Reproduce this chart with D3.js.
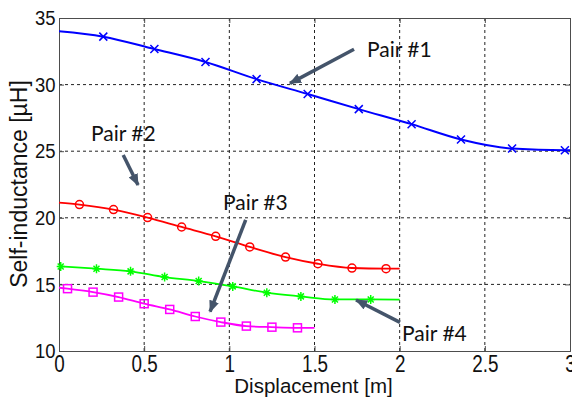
<!DOCTYPE html>
<html>
<head>
<meta charset="utf-8">
<script src="https://cdn.jsdelivr.net/npm/d3@7"></script>
<style>
  body { margin: 0; background: #fff; }
  .grid line { stroke: #222; stroke-dasharray: 3,3; stroke-width: 1; }
  .axis path, .axis line { stroke: #4d4d4d; }
  .axis text { font-family: "Liberation Sans", Arial, sans-serif; fill: #111; }
  .anno { font-family: Lato, "Open Sans", sans-serif; font-size: 21px; fill: #111; }
</style>
</head>
<body>
<div id="chart-area"></div>
<script>

// data (x = displacement m, y = self-inductance uH)
// mk = 1 where a marker is drawn
var pair1X = [0, 0.26, 0.56, 0.86, 1.16, 1.46, 1.76, 2.07, 2.36, 2.66, 2.97, 3.0];
var pair1Y = [34.0, 33.6, 32.67, 31.7, 30.41, 29.29, 28.16, 27.03, 25.88, 25.2, 25.07, 25.07];
var pair1Mk = [0, 1, 1, 1, 1, 1, 1, 1, 1, 1, 1, 0];

var pair2X = [0, 0.12, 0.32, 0.52, 0.72, 0.92, 1.12, 1.33, 1.52, 1.72, 1.92, 2.0];
var pair2Y = [21.14, 20.99, 20.62, 20.02, 19.31, 18.61, 17.81, 17.05, 16.55, 16.23, 16.18, 16.18];
var pair2Mk = [0, 1, 1, 1, 1, 1, 1, 1, 1, 1, 1, 0];

var pair3X = [0, 0.05, 0.2, 0.35, 0.5, 0.65, 0.8, 0.95, 1.1, 1.25, 1.4, 1.5];
var pair3Y = [14.75, 14.68, 14.42, 14.05, 13.55, 13.12, 12.59, 12.17, 11.87, 11.79, 11.74, 11.74];
var pair3Mk = [0, 1, 1, 1, 1, 1, 1, 1, 1, 1, 1, 0];

var pair4X = [0.01, 0.22, 0.42, 0.62, 0.82, 1.02, 1.22, 1.42, 1.62, 1.83, 2.0];
var pair4Y = [16.35, 16.18, 15.98, 15.55, 15.25, 14.85, 14.38, 14.1, 13.87, 13.87, 13.85];
var pair4Mk = [1, 1, 1, 1, 1, 1, 1, 1, 1, 1, 0];

var xTicks = [0, 0.5, 1, 1.5, 2, 2.5, 3];
var yTicks = [10, 15, 20, 25, 30, 35];

// annotations: label position and arrow tail -> tip, in data units
var annoText = ["Pair #1", "Pair #2", "Pair #3", "Pair #4"];
var annoX = [1.808, 0.188, 0.963, 2.014];
var annoY = [32.09, 25.77, 20.59, 10.75];
var arrowFrom = [[1.732, 32.65], [0.377, 24.71], [1.096, 19.84], [2.002, 12.15]];
var arrowTo = [[1.356, 30.09], [0.464, 22.46], [0.887, 12.95], [1.744, 13.83]];

var margin = {top: 18, right: 2, bottom: 48, left: 59};
var width = 572 - margin.left - margin.right,
    height = 399 - margin.top - margin.bottom;

var svg = d3.select("#chart-area").append("svg")
    .attr("width", 572)
    .attr("height", 399)
    .append("g")
    .attr("transform", "translate(" + margin.left + "," + margin.top + ")");

var x = d3.scaleLinear().domain([0, 3]).range([0, width]);
var y = d3.scaleLinear().domain([10, 35]).range([height, 0]);

// dashed grid
svg.append("g").attr("class", "grid")
    .selectAll("line").data(xTicks.slice(1, -1)).enter().append("line")
    .attr("x1", function(d) { return x(d); }).attr("x2", function(d) { return x(d); })
    .attr("y1", 0).attr("y2", height);
svg.append("g").attr("class", "grid")
    .selectAll("line").data(yTicks.slice(1, -1)).enter().append("line")
    .attr("y1", function(d) { return y(d); }).attr("y2", function(d) { return y(d); })
    .attr("x1", 0).attr("x2", width);

// axes
var xAxis = svg.append("g").attr("class", "axis")
    .attr("transform", "translate(0," + height + ")")
    .call(d3.axisBottom(x).tickValues(xTicks).tickSize(-5).tickPadding(5).tickFormat(d3.format("")));
xAxis.selectAll("text")
    .style("font-size", "23px")
    .attr("transform", "scale(0.82,1)");

var yAxis = svg.append("g").attr("class", "axis")
    .call(d3.axisLeft(y).tickValues(yTicks).tickSize(-5).tickPadding(4));
yAxis.selectAll("text")
    .style("font-size", "21px")
    .attr("transform", "scale(0.88,1)");

svg.append("g").attr("class", "axis")
    .call(d3.axisTop(x).tickValues(xTicks).tickSize(-5).tickFormat(""));
svg.append("g").attr("class", "axis")
    .attr("transform", "translate(" + width + ",0)")
    .call(d3.axisRight(y).tickValues(yTicks).tickSize(-5).tickFormat(""));

// axis titles
svg.append("text")
    .attr("x", x(1.5) - 1)
    .attr("y", height + 42)
    .attr("text-anchor", "middle")
    .style("font-family", "Liberation Sans, Arial, sans-serif")
    .style("font-size", "20.5px")
    .style("fill", "#111")
    .text("Displacement [m]");

svg.append("text")
    .attr("transform", "translate(" + (27 - margin.left) + "," + (184 - margin.top) + ") rotate(-90)")
    .attr("text-anchor", "middle")
    .style("font-family", "Liberation Sans, Arial, sans-serif")
    .style("font-size", "23px")
    .style("fill", "#111")
    .text("Self-inductance [\u00b5H]");

// series
var series = [
    {xs: pair1X, ys: pair1Y, mk: pair1Mk, color: "#0000ff", w: 2, shape: "x"},
    {xs: pair2X, ys: pair2Y, mk: pair2Mk, color: "#ff0000", w: 1.8, shape: "o"},
    {xs: pair3X, ys: pair3Y, mk: pair3Mk, color: "#ff00ff", w: 1.8, shape: "s"},
    {xs: pair4X, ys: pair4Y, mk: pair4Mk, color: "#00ff00", w: 1.8, shape: "*"}
];

var line = d3.line()
    .x(function(d) { return x(d[0]); })
    .y(function(d) { return y(d[1]); })
    .curve(d3.curveMonotoneX);

series.forEach(function(s) {
    var pts = s.xs.map(function(v, i) { return [v, s.ys[i], s.mk[i]]; });
    svg.append("path")
        .datum(pts)
        .attr("fill", "none")
        .attr("stroke", s.color)
        .attr("stroke-width", s.w)
        .attr("d", line);

    var m = svg.append("g").selectAll("g")
        .data(pts.filter(function(p) { return p[2]; }))
        .enter().append("g")
        .attr("transform", function(p) { return "translate(" + x(p[0]) + "," + y(p[1]) + ")"; })
        .attr("stroke", s.color)
        .attr("stroke-width", 1.5)
        .attr("fill", "none");

    if (s.shape == "x") {
        m.append("path").attr("d", "M-4,-4L4,4M-4,4L4,-4");
    } else if (s.shape == "o") {
        m.append("circle").attr("r", 4);
    } else if (s.shape == "s") {
        m.append("rect").attr("x", -4).attr("y", -4).attr("width", 8).attr("height", 8);
    } else {
        m.append("path").attr("d", "M-4,0L4,0M0,-4.5L0,4.5M-3,-3L3,3M-3,3L3,-3");
    }
});

// arrow head
svg.append("defs").append("marker")
    .attr("id", "head")
    .attr("markerUnits", "userSpaceOnUse")
    .attr("viewBox", "0 0 12 10")
    .attr("refX", 11).attr("refY", 5)
    .attr("markerWidth", 12).attr("markerHeight", 10)
    .attr("orient", "auto")
    .append("path")
    .attr("d", "M0,0L12,5L0,10Z")
    .attr("fill", "#44546a");

annoText.forEach(function(t, i) {
    svg.append("line")
        .attr("x1", x(arrowFrom[i][0])).attr("y1", y(arrowFrom[i][1]))
        .attr("x2", x(arrowTo[i][0])).attr("y2", y(arrowTo[i][1]))
        .attr("stroke", "#44546a")
        .attr("stroke-width", 3.5)
        .attr("marker-end", "url(#head)");
    svg.append("text")
        .attr("class", "anno")
        .attr("x", x(annoX[i]))
        .attr("y", y(annoY[i]))
        .text(t);
});

</script>
</body>
</html>
